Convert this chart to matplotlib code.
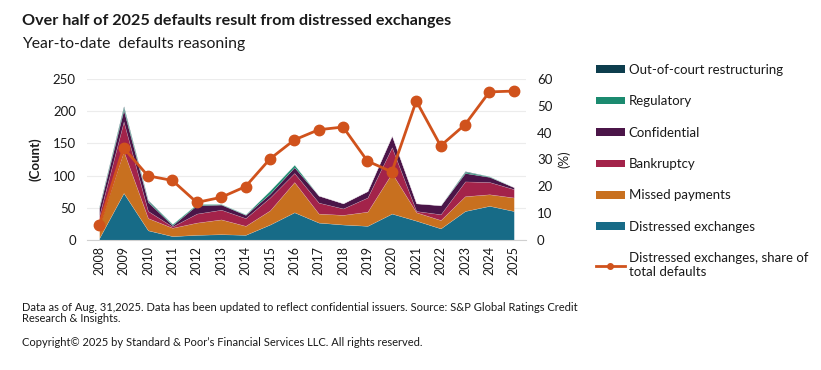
import matplotlib
matplotlib.use("Agg")
import matplotlib.pyplot as plt
from matplotlib.patches import Patch
from matplotlib.lines import Line2D

plt.rcParams['font.family'] = ['Lato', 'DejaVu Sans']

years = [str(y) for y in range(2008, 2026)]
distressed = [3, 73, 15, 6, 8, 9, 8, 24, 43, 27, 24, 22, 41, 30, 18, 45, 53, 45]
missed = [20, 65, 19, 13, 19, 23, 14, 22, 47, 14, 15, 22, 63, 13, 13, 23, 18, 21]
bankruptcy = [15, 46, 11, 2, 14, 15, 12, 20, 14, 17, 10, 22, 40, 2, 9, 23, 19, 13]
confidential = [12, 18, 14, 2, 13, 8, 5, 6, 9, 11, 8, 10, 18, 12, 14, 13, 8, 3]
regulatory = [2, 4, 2, 2, 2, 1, 1, 5, 4, 0, 0, 0, 0, 0, 0, 2, 1, 0]
out_of_court = [1, 2, 1, 0, 0, 0, 0, 0, 0, 0, 0, 0, 0, 0, 0, 1, 0, 0]
share = [5.5, 34.3, 23.9, 22.2, 14.0, 15.9, 19.9, 30.2, 37.3, 41.1, 42.1,
         29.4, 25.4, 51.8, 35.1, 43.0, 55.2, 55.5]

series_names = ["Distressed exchanges", "Missed payments", "Bankruptcy",
                "Confidential", "Regulatory", "Out-of-court restructuring"]
colors = ["#176b87", "#c8701f", "#a3234a", "#4b1548", "#1b8a6f", "#0d3d4d"]
line_color = "#d0521c"
text_color = "#1a1a1a"

fig = plt.figure(figsize=(8.21, 3.70), dpi=100)
ax = fig.add_axes([87/821, 1-240/370, (526-87)/821, (240-79)/370])

x = list(range(len(years)))
ax.stackplot(x, distressed, missed, bankruptcy, confidential, regulatory, out_of_court,
             colors=colors, edgecolor=(1, 1, 1, 0.3), linewidth=0.3)
ax.set_xlim(-0.5, len(years) - 0.5)
ax.set_ylim(0, 250)
ax.set_yticks(range(0, 251, 50))
ax.yaxis.grid(True, color="#ececec", linewidth=0.8)
ax.set_axisbelow(True)
ax.set_xticks(x)
ax.set_xticklabels(years, rotation=90, fontsize=9, color=text_color)
ax.tick_params(axis='y', length=0, labelsize=9.5, labelcolor=text_color, pad=8)
ax.tick_params(axis='x', length=0, pad=4)
for s in ["top", "right", "left"]:
    ax.spines[s].set_visible(False)
ax.spines["bottom"].set_color("#d0d0d0")
ax.set_ylabel("(Count)", fontsize=9.5, fontweight="bold", color=text_color, labelpad=8)

ax2 = ax.twinx()
ax2.plot(x, share, color=line_color, linewidth=2, marker="o", markersize=7.5)
ax2.set_ylim(0, 60)
ax2.set_yticks(range(0, 61, 10))
ax2.tick_params(axis='y', length=0, labelsize=9.5, labelcolor=text_color, pad=8)
for s in ["top", "right", "left", "bottom"]:
    ax2.spines[s].set_visible(False)
ax2.set_ylabel("(%)", fontsize=9.5, color=text_color, labelpad=4)

handles = [Patch(facecolor=c, edgecolor="none") for c in colors[::-1]]
labels = series_names[::-1]
handles.append(Line2D([0], [0], color=line_color, linewidth=2, marker="o", markersize=4))
labels.append("Distressed exchanges, share of\ntotal defaults")
fig.legend(handles, labels, loc="upper left", bbox_to_anchor=(584/821, 1-52/370),
           frameon=False, fontsize=9.5, handlelength=2.2, handleheight=0.5,
           labelspacing=1.47, handletextpad=0.3, labelcolor=text_color)

fig.text(22/821, 1-21/370, "Over half of 2025 defaults result from distressed exchanges",
         fontsize=11.6, fontweight="bold", color=text_color, va="center")
fig.text(22/821, 1-44/370, "Year-to-date  defaults reasoning",
         fontsize=11.3, color=text_color, va="center")
fig.text(22/821, 1-313/370,
         "Data as of Aug. 31,2025. Data has been updated to reflect confidential issuers. Source: S&P Global Ratings Credit\nResearch & Insights.",
         fontsize=8, color=text_color, va="center", linespacing=1.1)
fig.text(22/821, 1-342/370,
         "Copyright\u00a9 2025 by Standard & Poor\u2019s Financial Services LLC. All rights reserved.",
         fontsize=8, color=text_color, va="center")

fig.savefig("out.png", dpi=100)
